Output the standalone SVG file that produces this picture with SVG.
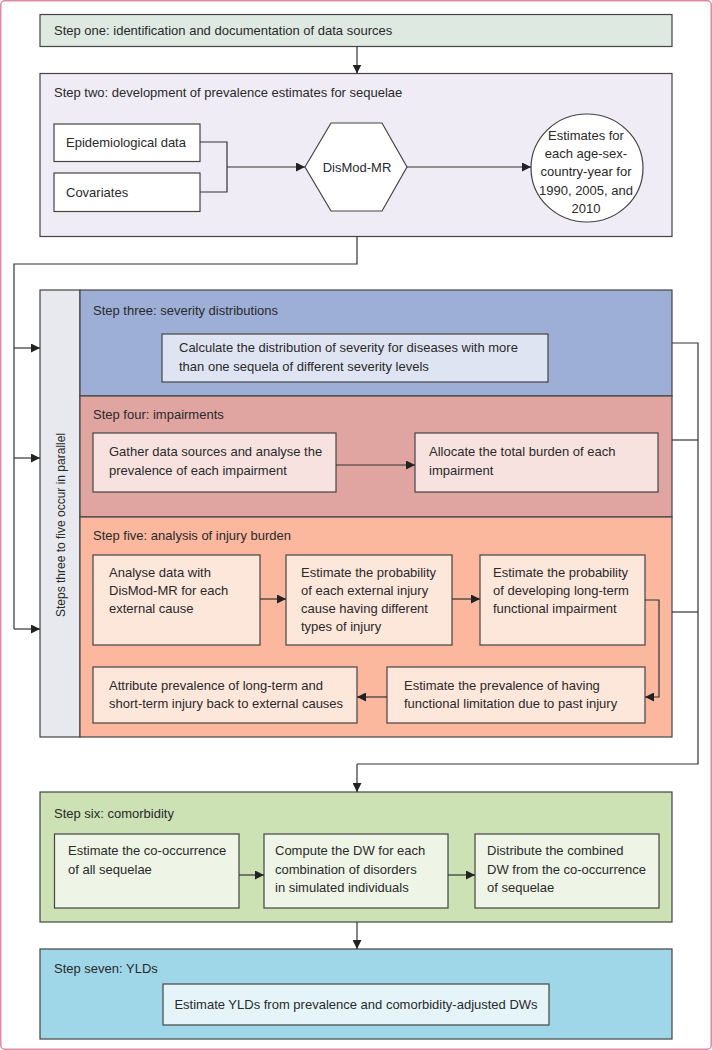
<svg xmlns="http://www.w3.org/2000/svg" width="712" height="1050" viewBox="0 0 712 1050">
<defs>
<marker id="arr" markerUnits="userSpaceOnUse" markerWidth="9" markerHeight="9" refX="9" refY="4.5" orient="auto">
<path d="M0,0 L9,4.5 L0,9 z" fill="#222"/>
</marker>
<style>
text{font-family:"Liberation Sans",Arial,sans-serif;font-size:13px;fill:#2a2a2a}
.panel{stroke:#444;stroke-width:1.2}
.box{stroke:#444;stroke-width:1.2}
.c{fill:none;stroke:#333;stroke-width:1.2}
.ca{fill:none;stroke:#333;stroke-width:1.2;marker-end:url(#arr)}
.mid{text-anchor:middle}
</style>
</defs>
<rect x="0.75" y="0.75" width="710.5" height="1048.5" rx="4" fill="#ffffff" stroke="#de8ca2" stroke-width="1.5"/>

<g id="step1">
<rect class="panel" x="40" y="14.5" width="632" height="32" fill="#dde9e1"/>
<text x="54" y="35">Step one: identification and documentation of data sources</text>
</g>

<g id="step2">
<rect class="panel" x="40" y="73.5" width="632" height="163" fill="#efecf6"/>
<text x="54" y="96.5">Step two: development of prevalence estimates for sequelae</text>
</g>
<g id="epi">
<rect class="box" x="54" y="124" width="146" height="37.5" fill="#ffffff"/>
<text x="66" y="146.5">Epidemiological data</text>
</g>
<g id="cov">
<rect class="box" x="54" y="173" width="146" height="38.5" fill="#ffffff"/>
<text x="66" y="196.5">Covariates</text>
</g>
<g id="dismod">
<polygon class="box" points="305,167 331,123 382,123 407,167 382,211 331,211" fill="#ffffff"/>
<text class="mid" x="357" y="171.5">DisMod-MR</text>
</g>
<g id="estimates">
<ellipse class="box" cx="587" cy="168" rx="56" ry="54" fill="#ffffff"/>
<text class="mid" x="586" y="139.5">Estimates for</text>
<text class="mid" x="586" y="157.5">each age-sex-</text>
<text class="mid" x="586" y="176">country-year for</text>
<text class="mid" x="586" y="194.5">1990, 2005, and</text>
<text class="mid" x="586" y="212.5">2010</text>
</g>

<g id="parallel">
<rect class="panel" x="40" y="290" width="40" height="447" fill="#e7e9ee"/>
<text class="mid" style="font-size:12px" transform="translate(64.5,525) rotate(-90)">Steps three to five occur in parallel</text>
</g>

<g id="step3">
<rect class="panel" x="80" y="290" width="592" height="106" fill="#9daed7"/>
<text x="93" y="314.5">Step three: severity distributions</text>
</g>
<g id="severity">
<rect class="box" x="162" y="334" width="386" height="48" fill="#dfe4f2"/>
<text x="179" y="352">Calculate the distribution of severity for diseases with more</text>
<text x="179" y="370.5">than one sequela of different severity levels</text>
</g>

<g id="step4">
<rect class="panel" x="80" y="396" width="592" height="121" fill="#e0a5a0"/>
<text x="93" y="418.5">Step four: impairments</text>
</g>
<g id="gather">
<rect class="box" x="93" y="433" width="243" height="59" fill="#f7e2e0"/>
<text x="109" y="456">Gather data sources and analyse the</text>
<text x="109" y="474.5">prevalence of each impairment</text>
</g>
<g id="allocate">
<rect class="box" x="415" y="433" width="243" height="59" fill="#f7e2e0"/>
<text x="429" y="456">Allocate the total burden of each</text>
<text x="429" y="474.5">impairment</text>
</g>

<g id="step5">
<rect class="panel" x="80" y="517" width="592" height="220" fill="#fbb89e"/>
<text x="93" y="539.5">Step five: analysis of injury burden</text>
</g>
<g id="analyse">
<rect class="box" x="93" y="555" width="167" height="90" fill="#fde6da"/>
<text x="109" y="577">Analyse data with</text>
<text x="109" y="595">DisMod-MR for each</text>
<text x="109" y="613">external cause</text>
</g>
<g id="probinjury">
<rect class="box" x="286" y="555" width="166" height="90" fill="#fde6da"/>
<text x="301" y="577">Estimate the probability</text>
<text x="301" y="595">of each external injury</text>
<text x="301" y="613">cause having different</text>
<text x="301" y="631">types of injury</text>
</g>
<g id="problong">
<rect class="box" x="480" y="555" width="165" height="90" fill="#fde6da"/>
<text x="493" y="577">Estimate the probability</text>
<text x="493" y="595">of developing long-term</text>
<text x="493" y="613">functional impairment</text>
</g>
<g id="prevlimit">
<rect class="box" x="387" y="667" width="258" height="56" fill="#fde6da"/>
<text x="404" y="689.5">Estimate the prevalence of having</text>
<text x="404" y="708">functional limitation due to past injury</text>
</g>
<g id="attribute">
<rect class="box" x="93" y="667" width="264" height="56" fill="#fde6da"/>
<text x="109" y="689.5">Attribute prevalence of long-term and</text>
<text x="109" y="708">short-term injury back to external causes</text>
</g>

<g id="step6">
<rect class="panel" x="40" y="792" width="632" height="130" fill="#cce1b4"/>
<text x="54" y="817.5">Step six: comorbidity</text>
</g>
<g id="cooccur">
<rect class="box" x="54.5" y="834" width="184.5" height="74" fill="#eef5e6"/>
<text x="68" y="855">Estimate the co-occurrence</text>
<text x="68" y="873.5">of all sequelae</text>
</g>
<g id="computedw">
<rect class="box" x="264" y="834" width="184" height="74" fill="#eef5e6"/>
<text x="275" y="855">Compute the DW for each</text>
<text x="275" y="873.5">combination of disorders</text>
<text x="275" y="892">in simulated individuals</text>
</g>
<g id="distribute">
<rect class="box" x="475" y="834" width="184" height="74" fill="#eef5e6"/>
<text x="487" y="855">Distribute the combined</text>
<text x="487" y="873.5">DW from the co-occurrence</text>
<text x="487" y="892">of sequelae</text>
</g>

<g id="step7">
<rect class="panel" x="40" y="949" width="632" height="90" fill="#9fd7e8"/>
<text x="54" y="972.5">Step seven: YLDs</text>
</g>
<g id="ylds">
<rect class="box" x="163" y="984" width="386" height="41" fill="#e5f4f9"/>
<text class="mid" x="356" y="1008.5">Estimate YLDs from prevalence and comorbidity-adjusted DWs</text>
</g>

<g id="connectors">
<path class="ca" d="M357 46.5 V73.5"/>
<path class="c" d="M200 142 H227 V192 H200"/>
<path class="ca" d="M227 167 H305"/>
<path class="ca" d="M407 167 H531"/>
<path class="c" d="M357 236.5 V264 H14 V629"/>
<path class="ca" d="M14 348 H40"/>
<path class="ca" d="M14 458 H40"/>
<path class="ca" d="M14 629 H40"/>
<path class="ca" d="M336 465 H415"/>
<path class="c" d="M672 343 H698 V764 H357"/>
<path class="ca" d="M357 764 V792"/>
<path class="c" d="M672 440 H698"/>
<path class="c" d="M672 612 H698"/>
<path class="ca" d="M260 599 H286"/>
<path class="ca" d="M452 599 H480"/>
<path class="ca" d="M645 600 H659 V697 H645"/>
<path class="ca" d="M387 697 H357"/>
<path class="ca" d="M239 875 H264"/>
<path class="ca" d="M448 875 H475"/>
<path class="ca" d="M357 922 V949"/>
</g>
</svg>
